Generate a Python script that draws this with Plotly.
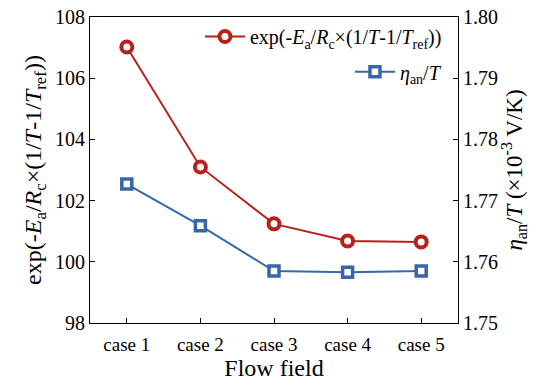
import plotly.graph_objects as go

cases = ["case 1", "case 2", "case 3", "case 4", "case 5"]
exp_vals = [107.02, 103.10, 101.24, 100.68, 100.65]
eta_vals = [1.7727, 1.7659, 1.7585, 1.7583, 1.7585]
left_ticks = [98, 100, 102, 104, 106, 108]
right_ticks = [1.75, 1.76, 1.77, 1.78, 1.79, 1.80]

red = "#B8211B"
blue = "#3767A8"
font = "Liberation Serif, Times New Roman, serif"

fig = go.Figure()
fig.add_trace(go.Scatter(
    x=cases, y=exp_vals, mode="lines+markers",
    name="exp(-<i>E</i><sub>a</sub>/<i>R</i><sub>c</sub>×(1/<i>T</i>-1/<i>T</i><sub>ref</sub>))",
    line=dict(color=red, width=2),
    marker=dict(symbol="circle", size=11, color="white", line=dict(width=4, color=red)),
    legend="legend"))
fig.add_trace(go.Scatter(
    x=cases, y=eta_vals, mode="lines+markers", yaxis="y2",
    name="<i>η</i><sub>an</sub>/<i>T</i>",
    line=dict(color=blue, width=2),
    marker=dict(symbol="square", size=10, color="white", line=dict(width=3.5, color=blue)),
    legend="legend2"))

fig.update_layout(
    width=557, height=385,
    margin=dict(l=90, r=99, t=17, b=62),
    paper_bgcolor="white", plot_bgcolor="white",
    font=dict(family=font, size=20, color="black"),
    showlegend=True,
    legend=dict(x=0.97, y=1.0, xanchor="right", yanchor="top", bgcolor="rgba(0,0,0,0)",
                font=dict(family=font, size=20), itemwidth=40),
    legend2=dict(x=0.97, y=0.885, xanchor="right", yanchor="top", bgcolor="rgba(0,0,0,0)",
                 font=dict(family=font, size=20), itemwidth=40),
    xaxis=dict(range=[-0.5, 4.5], showline=True, linecolor="black", linewidth=1.2,
               mirror=True, ticks="inside", ticklen=5, tickcolor="black",
               tickfont=dict(family=font, size=19), ticklabelstandoff=4,
               automargin=False,
               title=dict(text="Flow field", font=dict(family=font, size=24), standoff=5),
               showgrid=False, zeroline=False),
    yaxis=dict(range=[98, 108], tickvals=left_ticks, showline=True, linecolor="black",
               linewidth=1.2, ticks="inside", ticklen=5, tickcolor="black",
               tickfont=dict(family=font, size=20), automargin=False,
               title=dict(text="exp(-<i>E</i><sub>a</sub>/<i>R</i><sub>c</sub>×(1/<i>T</i>-1/<i>T</i><sub>ref</sub>))",
                          font=dict(family=font, size=24), standoff=6),
               showgrid=False, zeroline=False),
    yaxis2=dict(range=[1.75, 1.80], tickvals=right_ticks, tickformat=".2f",
                overlaying="y", side="right", showline=True, linecolor="black",
                linewidth=1.2, ticks="inside", ticklen=5, tickcolor="black",
                tickfont=dict(family=font, size=20), automargin=False,
                title=dict(text="<i>η</i><sub>an</sub>/<i>T</i> (×10<sup>-3</sup> V/K)",
                           font=dict(family=font, size=23), standoff=6),
                showgrid=False, zeroline=False),
)

fig.write_html("out.html")
